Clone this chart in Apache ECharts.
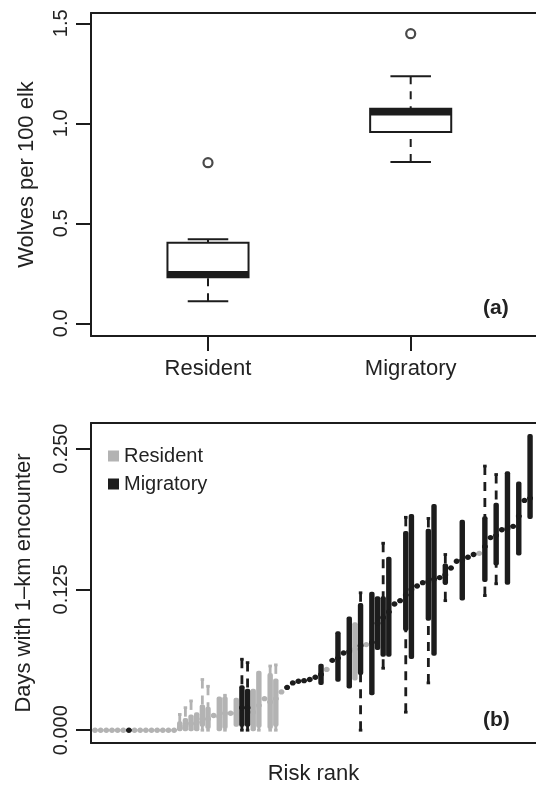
<!DOCTYPE html>
<html><head><meta charset="utf-8">
<script src="https://cdn.jsdelivr.net/npm/echarts@6/dist/echarts.min.js"></script>
<style>html,body{margin:0;padding:0;background:#fff;}#c{width:536px;height:786px;}</style>
</head><body><div id="c"></div>
<script>
// ---------- Panel (a): wolves per 100 elk ----------
const boxCategories = ['Resident', 'Migratory'];
const boxLow = [0.11, 0.807];
const boxQ1 = [0.23, 0.957];
const boxMedian = [0.245, 1.055];
const boxQ3 = [0.403, 1.073];
const boxHigh = [0.42, 1.235];
const boxOutliers = [0.803, 1.448];
const aTicks = [0, 0.5, 1.0, 1.5];

// ---------- Panel (b): days with 1-km encounter by risk rank ----------
const groupNames = { R: 'Resident', M: 'Migratory' };
const rankGroup = [
 'R','R','R','R','R','R','M','R','R','R',
 'R','R','R','R','R','R','R','R','R','R',
 'R','R','R','R','R','R','M','M','R','R',
 'R','R','R','R','M','M','M','M','M','M',
 'M','R','M','M','M','M','R','M','R','M',
 'M','M','M','M','M','M','M','M','M','M',
 'M','M','M','M','M','M','M','M','R','M',
 'M','M','M','M','M','M','M','M'];
const rankLow = [
 0,0,0,0,0,0,0,0,0,0,
 0,0,0,0,0,0,0,0,0,0,
 0,0.013,0,0,0.015,0.004,0,0,0,0,
 0.028,0,0,0.034,0.038,0.042,0.0435,0.044,0.045,0.047,
 0.041,0.054,0.062,0.044,0.0685,0.038,0.045,0,0.076,0.032,
 0.072,0.055,0.066,0.112,0.115,0.016,0.064,0.128,0.131,0.042,
 0.067,0.1355,0.115,0.144,0.150,0.116,0.1535,0.156,0.157,0.1195,
 0.171,0.130,0.178,0.130,0.181,0.156,0.204,0.1885];
const rankQ1 = [
 0,0,0,0,0,0,0,0,0,0,
 0,0,0,0,0,0,0,0,0,0.004,
 0.002,0.013,0,0.002,0.015,0.004,0.004,0.004,0,0.003,
 0.028,0.002,0.004,0.034,0.038,0.042,0.0435,0.044,0.045,0.047,
 0.041,0.054,0.062,0.044,0.0685,0.038,0.045,0.050,0.076,0.032,
 0.072,0.066,0.066,0.112,0.115,0.089,0.064,0.128,0.131,0.098,
 0.067,0.1355,0.130,0.144,0.150,0.116,0.1535,0.156,0.157,0.1325,
 0.171,0.147,0.178,0.130,0.181,0.156,0.204,0.1885];
const rankMedian = [
 0,0,0,0,0,0,0,0,0,0,
 0,0,0,0,0,0.002,0.004,0.006,0.007,0.010,
 0.010,0.013,0.012,0.015,0.015,0.015,0.020,0.020,0.016,0.022,
 0.028,0.025,0.028,0.034,0.038,0.042,0.0435,0.044,0.045,0.047,
 0.0495,0.054,0.062,0.064,0.0685,0.070,0.072,0.075,0.076,0.078,
 0.095,0.100,0.105,0.112,0.115,0.120,0.125,0.128,0.131,0.132,
 0.134,0.1355,0.138,0.144,0.150,0.151,0.1535,0.156,0.157,0.163,
 0.171,0.173,0.178,0.179,0.181,0.190,0.204,0.206];
const rankQ3 = [
 0,0,0,0,0,0,0,0,0,0,
 0,0,0,0,0,0.007,0.010,0.013,0.015,0.022,
 0.020,0.013,0.029,0.029,0.015,0.028,0.039,0.036,0.036,0.052,
 0.028,0.050,0.045,0.034,0.038,0.042,0.0435,0.044,0.045,0.047,
 0.058,0.054,0.062,0.087,0.0685,0.100,0.095,0.112,0.076,0.122,
 0.118,0.118,0.153,0.112,0.115,0.176,0.191,0.128,0.131,0.178,
 0.200,0.1355,0.147,0.144,0.150,0.186,0.1535,0.156,0.157,0.189,
 0.171,0.201,0.178,0.229,0.181,0.220,0.204,0.262];
const rankHigh = [
 0,0,0,0,0,0,0,0,0,0,
 0,0,0,0,0,0.014,0.020,0.026,0.015,0.045,
 0.039,0.013,0.029,0.031,0.015,0.028,0.063,0.060,0.036,0.052,
 0.028,0.057,0.058,0.034,0.038,0.042,0.0435,0.044,0.045,0.047,
 0.058,0.054,0.062,0.087,0.0685,0.100,0.095,0.122,0.076,0.122,
 0.118,0.166,0.153,0.112,0.115,0.189,0.191,0.128,0.131,0.188,
 0.200,0.1355,0.156,0.144,0.150,0.186,0.1535,0.156,0.157,0.2345,
 0.171,0.227,0.178,0.229,0.181,0.220,0.204,0.262];
const bTicks = [0, 0.125, 0.25];

const FONT = '"Liberation Sans", Arial, sans-serif';
const INK = '#1c1c1c';
const GRAY = '#b3b3b3';

// ---------- render functions ----------
function renderBoxA(params, api) {
  const c = api.value(0);
  const lo = api.value(1), q1 = api.value(2), med = api.value(3), q3 = api.value(4), hi = api.value(5);
  const hw = api.size([0.2, 0])[0];
  const sw = api.size([0.1, 0])[0];
  const cx = api.coord([c, 0])[0];
  const Y = v => api.coord([c, v])[1];
  const dash = { stroke: INK, lineWidth: 2, lineDash: [8, 7] };
  const solid = { stroke: INK, lineWidth: 2 };
  return {
    type: 'group',
    children: [
      { type: 'line', shape: { x1: cx, y1: Y(hi), x2: cx, y2: Y(q3) }, style: dash },
      { type: 'line', shape: { x1: cx - sw, y1: Y(hi), x2: cx + sw, y2: Y(hi) }, style: solid },
      { type: 'line', shape: { x1: cx, y1: Y(lo), x2: cx, y2: Y(q1) }, style: dash },
      { type: 'line', shape: { x1: cx - sw, y1: Y(lo), x2: cx + sw, y2: Y(lo) }, style: solid },
      { type: 'rect', shape: { x: cx - hw, y: Y(q3), width: 2 * hw, height: Y(q1) - Y(q3) },
        style: { fill: '#fff', stroke: INK, lineWidth: 2 } },
      { type: 'line', shape: { x1: cx - hw, y1: Y(med), x2: cx + hw, y2: Y(med) },
        style: { stroke: INK, lineWidth: 6.5 } }
    ]
  };
}

function makeRankRender(color) {
  return function (params, api) {
    const r = api.value(0);
    const lo = api.value(1), q1 = api.value(2), med = api.value(3), q3 = api.value(4), hi = api.value(5);
    const unit = api.size([1, 0])[0];
    const hw = unit * 0.48;
    const cx = api.coord([r, med])[0];
    const Y = v => api.coord([r, v])[1];
    const yLo = Y(lo), yQ1 = Y(q1), yMed = Y(med), yQ3 = Y(q3), yHi = Y(hi);
    const dash = { stroke: color, lineWidth: 2.8, lineDash: [9, 7] };
    const cap = { stroke: color, lineWidth: 2.8 };
    const ch = [];
    if (yHi < yQ3 - 0.5) {
      ch.push({ type: 'line', shape: { x1: cx, y1: yHi, x2: cx, y2: yQ3 }, style: dash });
      ch.push({ type: 'line', shape: { x1: cx - hw * 0.65, y1: yHi, x2: cx + hw * 0.65, y2: yHi }, style: cap });
    }
    if (yLo > yQ1 + 0.5) {
      ch.push({ type: 'line', shape: { x1: cx, y1: yLo, x2: cx, y2: yQ1 }, style: dash });
      ch.push({ type: 'line', shape: { x1: cx - hw * 0.65, y1: yLo, x2: cx + hw * 0.65, y2: yLo }, style: cap });
    }
    if (yQ1 - yQ3 > 0.5) {
      ch.push({ type: 'rect', shape: { x: cx - hw, y: yQ3 - 1, width: 2 * hw, height: yQ1 - yQ3 + 2, r: 2 },
        style: { fill: color } });
    }
    ch.push({ type: 'line', shape: { x1: cx - unit / 2, y1: yMed, x2: cx + unit / 2, y2: yMed },
      style: { stroke: color, lineWidth: 2.2 } });
    ch.push({ type: 'circle', shape: { cx: cx, cy: yMed, r: 2.7 }, style: { fill: color } });
    return { type: 'group', children: ch };
  };
}

// ---------- data assembly ----------
const boxData = boxCategories.map((n, i) => [i + 1, boxLow[i], boxQ1[i], boxMedian[i], boxQ3[i], boxHigh[i]]);
const outlierData = boxOutliers.map((v, i) => [i + 1, v]);
function rankData(g) {
  const out = [];
  rankGroup.forEach((gg, i) => {
    if (gg === g) out.push([i + 1, rankLow[i], rankQ1[i], rankMedian[i], rankQ3[i], rankHigh[i]]);
  });
  return out;
}

const tickStyle = { color: INK, width: 2 };
const frameLine = { show: true, onZero: false, lineStyle: { color: INK, width: 2 } };
const labelBase = { color: '#222', fontFamily: FONT };
const A_MIN = 0.4228, A_MAX = 2.6182;
const B_MIN = 0.29, B_MAX = 79.05;

const option = {
  animation: false,
  backgroundColor: '#fff',
  textStyle: { fontFamily: FONT },
  title: [
    { text: '(a)', left: 483, top: 298, padding: 0, textStyle: { fontSize: 21, fontWeight: 'bold', color: '#222', fontFamily: FONT } },
    { text: '(b)', left: 483, top: 710, padding: 0, textStyle: { fontSize: 21, fontWeight: 'bold', color: '#222', fontFamily: FONT } }
  ],
  legend: {
    data: ['Resident', 'Migratory'],
    orient: 'vertical', left: 108, top: 446, padding: 0, itemGap: 8,
    itemWidth: 11, itemHeight: 11, icon: 'rect', selectedMode: false,
    textStyle: { fontSize: 20, color: '#222', fontFamily: FONT }
  },
  grid: [
    { left: 91, top: 13, right: 0, height: 323, show: false },
    { left: 91, top: 423, right: 0, height: 325, show: false }
  ],
  xAxis: [
    { gridIndex: 0, type: 'value', min: A_MIN, max: A_MAX, position: 'bottom',
      splitLine: { show: false }, axisLine: frameLine,
      axisTick: { show: true, customValues: [1, 2], length: 15, lineStyle: tickStyle },
      axisLabel: Object.assign({ show: true, customValues: [1, 2], fontSize: 22, margin: 22,
        formatter: v => boxCategories[Math.round(v) - 1] }, labelBase) },
    { gridIndex: 1, type: 'value', min: B_MIN, max: B_MAX, position: 'bottom',
      splitLine: { show: false }, axisLine: frameLine, axisTick: { show: false }, axisLabel: { show: false },
      name: 'Risk rank', nameLocation: 'middle', nameGap: 20,
      nameTextStyle: { fontSize: 22, color: '#222', fontFamily: FONT } },
    { gridIndex: 0, type: 'value', min: A_MIN, max: A_MAX, position: 'top',
      splitLine: { show: false }, axisLine: frameLine, axisTick: { show: false }, axisLabel: { show: false } },
    { gridIndex: 1, type: 'value', min: B_MIN, max: B_MAX, position: 'top',
      splitLine: { show: false }, axisLine: frameLine, axisTick: { show: false }, axisLabel: { show: false } }
  ],
  yAxis: [
    { gridIndex: 0, type: 'value', min: -0.0635, max: 1.5515,
      splitLine: { show: false }, axisLine: frameLine,
      axisTick: { show: true, customValues: aTicks, length: 15, lineStyle: tickStyle },
      axisLabel: Object.assign({ customValues: aTicks, rotate: 90, fontSize: 20, margin: 20,
        formatter: v => Number(v).toFixed(1) }, labelBase),
      name: 'Wolves per 100 elk', nameLocation: 'middle', nameGap: 53,
      nameTextStyle: { fontSize: 22, color: '#222', fontFamily: FONT } },
    { gridIndex: 1, type: 'value', min: -0.01136, max: 0.27273,
      splitLine: { show: false }, axisLine: frameLine,
      axisTick: { show: true, customValues: bTicks, length: 15, lineStyle: tickStyle },
      axisLabel: Object.assign({ customValues: bTicks, rotate: 90, fontSize: 20, margin: 20,
        formatter: v => Number(v).toFixed(3) }, labelBase),
      name: 'Days with 1\u2013km encounter', nameLocation: 'middle', nameGap: 56,
      nameTextStyle: { fontSize: 22, color: '#222', fontFamily: FONT } }
  ],
  series: [
    { type: 'custom', name: 'boxes', xAxisIndex: 0, yAxisIndex: 0, renderItem: renderBoxA,
      encode: { x: 0, y: [1, 2, 3, 4, 5] }, data: boxData, silent: true },
    { type: 'scatter', name: 'outliers', xAxisIndex: 0, yAxisIndex: 0, data: outlierData,
      symbol: 'circle', symbolSize: 9, silent: true,
      itemStyle: { color: '#fff', borderColor: INK, borderWidth: 2.2 } },
    { type: 'custom', name: groupNames.R, xAxisIndex: 1, yAxisIndex: 1,
      renderItem: makeRankRender(GRAY), itemStyle: { color: GRAY },
      encode: { x: 0, y: [1, 2, 3, 4, 5] }, data: rankData('R'), silent: true },
    { type: 'custom', name: groupNames.M, xAxisIndex: 1, yAxisIndex: 1,
      renderItem: makeRankRender(INK), itemStyle: { color: INK },
      encode: { x: 0, y: [1, 2, 3, 4, 5] }, data: rankData('M'), silent: true }
  ]
};

const chart = echarts.init(document.getElementById('c'), null, { renderer: 'canvas' });
chart.setOption(option);
</script>
</body></html>
